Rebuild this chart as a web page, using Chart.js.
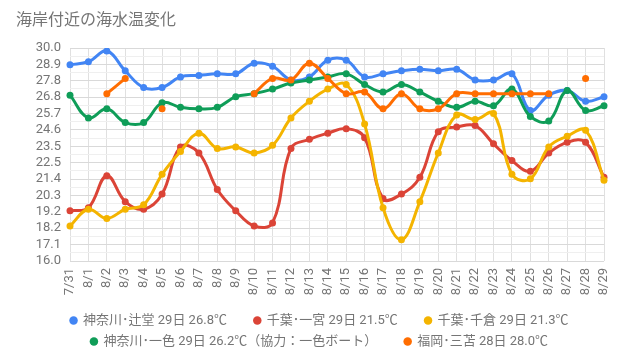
<!DOCTYPE html>
<html lang="ja">
<head>
<meta charset="utf-8">
<title>海岸付近の海水温変化</title>
<script src="https://cdn.jsdelivr.net/npm/chart.js@4.4.1/dist/chart.umd.min.js"></script>
<style>
  html, body { margin: 0; padding: 0; background: #fff; }
  #rahmen { position: relative; width: 639px; height: 358px; }
  #titel {
    position: absolute; left: 16px; top: 12px;
    font: 16px Roboto, "Noto Sans CJK JP", sans-serif;
    line-height: 16px; color: #757575;
  }
</style>
</head>
<body>
<div id="rahmen">
  <div id="titel">海岸付近の海水温変化</div>
  <canvas id="myChart"></canvas>
</div>
<script>
// Tage (x-Achse)
const tage = ['7/31','8/1','8/2','8/3','8/4','8/5','8/6','8/7','8/8','8/9','8/10','8/11','8/12','8/13','8/14',
              '8/15','8/16','8/17','8/18','8/19','8/20','8/21','8/22','8/23','8/24','8/25','8/26','8/27','8/28','8/29'];

// Wassertemperaturen je Messstelle (℃), null = kein Wert
const kanagawa_tsujido = [28.9, 29.1, 29.8, 28.5, 27.4, 27.4, 28.1, 28.2, 28.3, 28.3, 29.0, 28.8, 27.9, 28.1, 29.2,
                          29.2, 28.1, 28.3, 28.5, 28.6, 28.5, 28.6, 27.9, 27.9, 28.3, 25.9, 26.9, 27.2, 26.5, 26.8];
const chiba_ichinomiya = [19.3, 19.5, 21.6, 19.9, 19.4, 20.4, 23.5, 23.1, 20.7, 19.3, 18.3, 18.5, 23.4, 24.0, 24.4,
                          24.7, 24.1, 20.1, 20.4, 21.5, 24.5, 24.8, 24.9, 23.7, 22.6, 21.9, 23.1, 23.8, 23.8, 21.5];
const chiba_chikura    = [18.3, 19.4, 18.8, 19.4, 19.7, 21.7, 23.2, 24.4, 23.4, 23.5, 23.1, 23.6, 25.4, 26.5, 27.3,
                          27.6, 25.0, 19.5, 17.4, 19.9, 23.1, 25.6, 25.3, 25.7, 21.7, 21.4, 23.5, 24.2, 24.6, 21.3];
const kanagawa_isshiki = [26.9, 25.4, 26.0, 25.1, 25.1, 26.4, 26.1, 26.0, 26.1, 26.8, 27.0, 27.3, 27.7, 27.9, 28.1,
                          28.3, 27.6, 27.1, 27.6, 27.1, 26.5, 26.1, 26.5, 26.2, 27.3, 25.5, 25.2, 27.2, 25.9, 26.2];
const fukuoka_mitoma   = [null, null, 27.0, 28.0, null, 26.0, null, null, null, null, 27.0, 28.0, 27.9, 29.0, 28.0,
                          27.0, 27.1, 26.0, 27.0, 26.0, 26.0, 27.0, 27.0, 27.0, 27.0, 27.0, 27.0, null, 28.0, null];

const namen = ['神奈川･辻堂 29日 26.8℃', '千葉･一宮 29日 21.5℃', '千葉･千倉 29日 21.3℃',
               '神奈川･一色 29日 26.2℃（協力：一色ボート）', '福岡･三苫 28日 28.0℃'];
const farben = ['#4285f4', '#db4437', '#f4b400', '#0f9d58', '#ff6d01'];

// y-Achse: 16.0 bis 30.0 in 13 Schritten, Hilfslinien dazwischen
const y_min = 16, y_max = 30, y_schritte = 13;

Chart.defaults.font.family = 'Roboto, "Noto Sans CJK JP", sans-serif';
Chart.defaults.color = '#757575';

function datensatz(i, werte){
    return {
        label: namen[i],
        data: werte,
        borderColor: farben[i],
        backgroundColor: farben[i],
        borderWidth: 3,
        pointRadius: 3.5,
        pointBorderWidth: 0,
        pointHoverRadius: 4,
        tension: 0.4,
        spanGaps: false,
        order: 4 - i          // spätere Reihen oben zeichnen
    };
}

new Chart('myChart', {
    type: 'line',
    data: {
        labels: tage,
        datasets: [
            datensatz(0, kanagawa_tsujido),
            datensatz(1, chiba_ichinomiya),
            datensatz(2, chiba_chikura),
            datensatz(3, kanagawa_isshiki),
            datensatz(4, fukuoka_mitoma)
        ]
    },
    options: {
        responsive: true,
        maintainAspectRatio: false,
        animation: false,
        layout: { padding: { top: 48, left: 35, right: 35, bottom: 0 } },
        scales: {
            x: {
                grid: { color: '#e0e0e0', drawTicks: false },
                border: { display: false },
                ticks: { autoSkip: false, minRotation: 90, maxRotation: 90, padding: 7, font: { size: 13 } },
                afterFit: function(s){ s.height = 45; }
            },
            y: {
                min: y_min,
                max: y_max,
                afterBuildTicks: function(s){
                    let t = [];
                    for (let k = 0; k <= 2 * y_schritte; k++){
                        t.push({ value: y_min + k * (y_max - y_min) / (2 * y_schritte) });
                    }
                    s.ticks = t;
                },
                grid: {
                    drawTicks: false,
                    color: function(ctx){ return ctx.index % 2 ? '#efefef' : '#d9d9d9'; }
                },
                border: { display: false },
                ticks: {
                    autoSkip: false,
                    padding: 9,
                    font: { size: 13 },
                    callback: function(v, i){ return i % 2 ? '' : v.toFixed(1); }
                },
                afterFit: function(s){ s.width = 35; }
            }
        },
        plugins: {
            title: { display: false },
            tooltip: { enabled: false },
            legend: {
                position: 'bottom',
                labels: {
                    usePointStyle: true,
                    pointStyle: 'circle',
                    boxWidth: 6,
                    boxHeight: 6,
                    padding: 8,
                    font: { size: 13 },
                    color: '#757575',
                    sort: function(a, b){ return a.datasetIndex - b.datasetIndex; },
                    generateLabels: function(chart){
                        let items = Chart.defaults.plugins.legend.labels.generateLabels(chart);
                        items.forEach(function(it){
                            // Abstand zum nächsten Eintrag in derselben Zeile
                            if (it.datasetIndex !== 2 && it.datasetIndex !== 4){
                                it.text = it.text + '      ';
                            }
                        });
                        return items;
                    }
                }
            }
        }
    }
});
</script>
</body>
</html>
